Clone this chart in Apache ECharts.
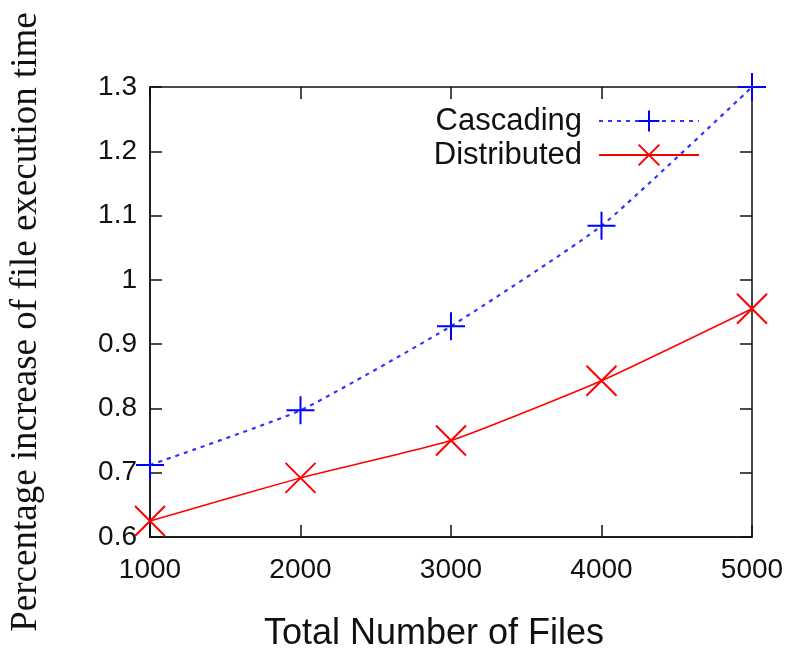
<!DOCTYPE html>
<html><head><meta charset="utf-8">
<script src="https://cdn.jsdelivr.net/npm/echarts@6/dist/echarts.min.js"></script>
<style>html,body{margin:0;padding:0;background:#fff}#c{width:795px;height:649px}</style>
</head><body><div id="c"></div>
<script>
const files = [1000, 2000, 3000, 4000, 5000];
const cascading = [0.712, 0.797, 0.928, 1.084, 1.30];
const distributed = [0.625, 0.692, 0.750, 0.843, 0.955];
const seriesNames = ['Cascading', 'Distributed'];
const xTitle = 'Total Number of Files';
const yTitle = 'Percentage increase of file execution time';

const plusPath = 'path://M0,-10L0,10M-10,0L10,0';
const crossPath = 'path://M-10,-10L10,10M-10,10L10,-10';
const chart = echarts.init(document.getElementById('c'), null, {renderer: 'canvas'});
const tickFont = {fontFamily: 'Liberation Sans', fontSize: 28, color: '#111'};
const tickLine = {color: '#111', width: 1.5};
chart.setOption({
  animation: false,
  backgroundColor: '#fff',
  grid: {left: 150, right: 43, top: 87, bottom: 112, show: true, borderColor: '#111', borderWidth: 1.5,
         containLabel: false, outerBoundsMode: 'none'},
  legend: {
    show: true, right: 90, top: 100, orient: 'vertical', align: 'right',
    itemWidth: 100, itemHeight: 26, itemGap: 2,
    textStyle: {fontFamily: 'Liberation Sans', fontSize: 31, lineHeight: 32, color: '#111', padding: [0, 12, 0, 0]},
    data: seriesNames
  },
  xAxis: [{
    type: 'value', min: 1000, max: 5000, interval: 1000,
    name: xTitle, nameLocation: 'middle', nameGap: 79,
    nameTextStyle: {fontFamily: 'Liberation Sans', fontSize: 36, color: '#111', padding: [0, 34, 0, 0]},
    axisLine: {show: true, lineStyle: tickLine},
    axisTick: {show: true, inside: true, length: 12, lineStyle: tickLine},
    axisLabel: {...tickFont, margin: 19, formatter: v => String(v)},
    splitLine: {show: false}
  }, {
    type: 'value', min: 1000, max: 5000, interval: 1000, position: 'top',
    axisLine: {show: false}, axisTick: {show: true, inside: true, length: 12, lineStyle: tickLine},
    axisLabel: {show: false}, splitLine: {show: false}
  }],
  yAxis: [{
    type: 'value', min: 0.6, max: 1.3, interval: 0.1,
    name: yTitle, nameLocation: 'middle', nameGap: 105, nameRotate: 90,
    nameTextStyle: {fontFamily: 'Liberation Serif', fontSize: 37, color: '#111', padding: [0, 20, 0, 0]},
    axisLine: {show: true, lineStyle: tickLine},
    axisTick: {show: true, inside: true, length: 12, lineStyle: tickLine},
    axisLabel: {...tickFont, margin: 13, formatter: v => String(Math.round(v * 10) / 10)},
    splitLine: {show: false}
  }, {
    type: 'value', min: 0.6, max: 1.3, interval: 0.1, position: 'right',
    axisLine: {show: false}, axisTick: {show: true, inside: true, length: 12, lineStyle: tickLine},
    axisLabel: {show: false}, splitLine: {show: false}
  }],
  series: [{
    name: seriesNames[0], type: 'line', smooth: 0.15,
    data: files.map((f, i) => [f, cascading[i]]),
    symbol: plusPath, symbolSize: 28, showSymbol: true,
    lineStyle: {color: '#3333ff', width: 2.2, type: [4, 5]},
    itemStyle: {color: 'rgba(0,0,0,0)', borderColor: '#0000ff', borderWidth: 2}
  }, {
    name: seriesNames[1], type: 'line', smooth: 0.15,
    data: files.map((f, i) => [f, distributed[i]]),
    symbol: crossPath, symbolSize: 30, showSymbol: true,
    lineStyle: {color: '#ff0000', width: 1.5},
    itemStyle: {color: 'rgba(0,0,0,0)', borderColor: '#ff0000', borderWidth: 2}
  }]
});
</script></body></html>
